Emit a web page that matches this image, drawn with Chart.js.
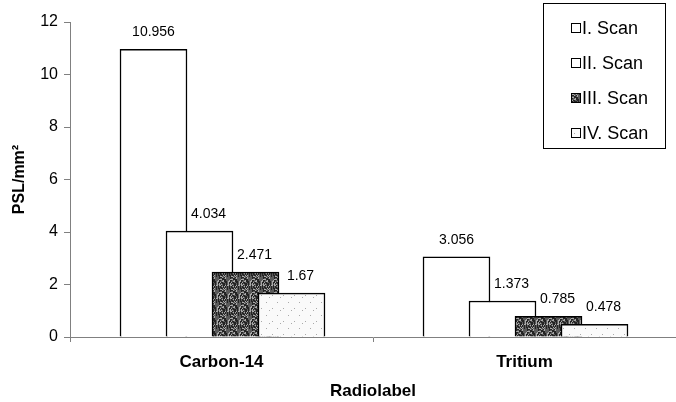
<!DOCTYPE html>
<html>
<head>
<meta charset="utf-8">
<script src="https://cdn.jsdelivr.net/npm/chart.js@4/dist/chart.umd.min.js"></script>
<style>
  html, body { margin: 0; padding: 0; background: #fff; }
  #wrap { width: 676px; height: 402px; }
</style>
</head>
<body>
<div id="wrap"><canvas id="c" width="676" height="402"></canvas></div>
<script>
const categories = ['Carbon-14', 'Tritium'];
const seriesNames = ['I. Scan', 'II. Scan', 'III. Scan', 'IV. Scan'];
const scan1 = [10.956, 3.056];
const scan2 = [4.034, 1.373];
const scan3 = [2.471, 0.785];
const scan4 = [1.67, 0.478];
const yTicks = [0, 2, 4, 6, 8, 10, 12];

const FONT = "'Liberation Sans', Arial, sans-serif";

// deterministic texture patterns
function makePattern(kind) {
  const W = 11, H = 13;
  const c = document.createElement('canvas');
  c.width = W; c.height = H;
  const g = c.getContext('2d');
  const img = g.createImageData(W, H);
  for (let y = 0; y < H; y++) {
    for (let x = 0; x < W; x++) {
      const h = (x * 37 + y * 91 + x * y * 17 + (x ^ y) * 5) % 29;
      let v;
      if (kind === 'dark') {
        v = h < 11 ? 35 : (h < 21 ? 90 : 170);
      } else {
        v = ((x === 2 && y === 3) || (x === 8 && y === 9) || (x === 5 && y === 11)) ? 170 : 250;
      }
      const i = (y * W + x) * 4;
      img.data[i] = v; img.data[i + 1] = v; img.data[i + 2] = v; img.data[i + 3] = 255;
    }
  }
  g.putImageData(img, 0, 0);
  return document.getElementById('c').getContext('2d').createPattern(c, 'repeat');
}

const fills = ['#ffffff', '#ffffff', makePattern('dark'), makePattern('light')];
const allSeries = [scan1, scan2, scan3, scan4];
// horizontal shift of each series inside its category (px), and label nudges
const shiftPx = [-68, -22, 24, 70];
const labelDx = [0, 9, 9, 9];
const catPx = 303;

const datasets = allSeries.map((vals, i) => ({
  label: seriesNames[i],
  data: vals.map((v, k) => ({ x: k, y: v })),
  backgroundColor: fills[i],
  borderColor: '#000',
  borderWidth: 1.5,
  barThickness: 67,
  grouped: false,
  xAxisID: 'x' + i,
  order: 3 - i
}));

const scales = {
  x: {
    type: 'category',
    labels: categories,
    offset: true,
    position: 'bottom',
    afterFit: s => { s.height = 65; },
    grid: { display: true, drawOnChartArea: false, drawTicks: true, tickLength: 5, color: '#808080', offset: true },
    border: { color: '#808080', width: 1 },
    ticks: { color: '#000', font: { family: FONT, size: 17, weight: 'bold' }, padding: 10 },
    title: { display: true, text: 'Radiolabel', color: '#000', font: { family: FONT, size: 17, weight: 'bold' }, padding: { top: 0, bottom: 0 } }
  },
  y: {
    min: 0, max: 12,
    afterFit: s => { s.width = 70; },
    afterBuildTicks: s => { s.ticks = yTicks.map(v => ({ value: v })); },
    grid: { display: true, drawOnChartArea: false, drawTicks: true, tickLength: 6, color: '#808080' },
    border: { color: '#808080', width: 1 },
    ticks: { color: '#000', font: { family: FONT, size: 16 }, padding: 6 },
    title: { display: true, text: 'PSL/mm²', color: '#000', font: { family: FONT, size: 16, weight: 'bold' }, padding: { top: 10, bottom: 0 } }
  }
};
shiftPx.forEach((d, i) => {
  const off = d / catPx;
  scales['x' + i] = { type: 'linear', display: false, offset: false, bounds: 'data', min: -0.5 - off, max: 1.5 - off, grace: 0 };
});

const valueLabels = {
  id: 'valueLabels',
  afterDatasetsDraw(chart) {
    const ctx = chart.ctx;
    ctx.save();
    ctx.font = '14px ' + FONT;
    ctx.fillStyle = '#000';
    ctx.textAlign = 'center';
    ctx.textBaseline = 'middle';
    chart.data.datasets.forEach((ds, i) => {
      const meta = chart.getDatasetMeta(i);
      meta.data.forEach((el, k) => {
        ctx.fillText(String(allSeries[i][k]), el.x + labelDx[i], el.y - 17);
      });
    });
    ctx.restore();
  }
};

const boxLegend = {
  id: 'boxLegend',
  afterDraw(chart) {
    const ctx = chart.ctx;
    ctx.save();
    const L = 543, T = 3, R = 665, B = 148;
    ctx.fillStyle = '#fff';
    ctx.fillRect(L, T, R - L, B - T);
    ctx.strokeStyle = '#000';
    ctx.lineWidth = 1;
    ctx.strokeRect(L + 0.5, T + 0.5, R - L, B - T);
    ctx.font = '18px ' + FONT;
    ctx.textAlign = 'left';
    ctx.textBaseline = 'middle';
    chart.data.datasets.forEach((ds, i) => {
      const cy = 28 + i * 35;
      ctx.fillStyle = ds.backgroundColor;
      ctx.fillRect(571, cy - 4, 9, 9);
      ctx.strokeStyle = '#000';
      ctx.lineWidth = 1;
      ctx.strokeRect(571.5, cy - 4.5, 9, 9);
      ctx.fillStyle = '#000';
      ctx.fillText(ds.label, 582, cy + 1);
    });
    ctx.restore();
  }
};

new Chart(document.getElementById('c'), {
  type: 'bar',
  data: { datasets },
  options: {
    responsive: false,
    animation: false,
    devicePixelRatio: 1,
    layout: { padding: { top: 22, right: 0, bottom: 0, left: 0 } },
    plugins: { legend: { display: false }, tooltip: { enabled: false } },
    scales
  },
  plugins: [valueLabels, boxLegend]
});
</script>
</body>
</html>
